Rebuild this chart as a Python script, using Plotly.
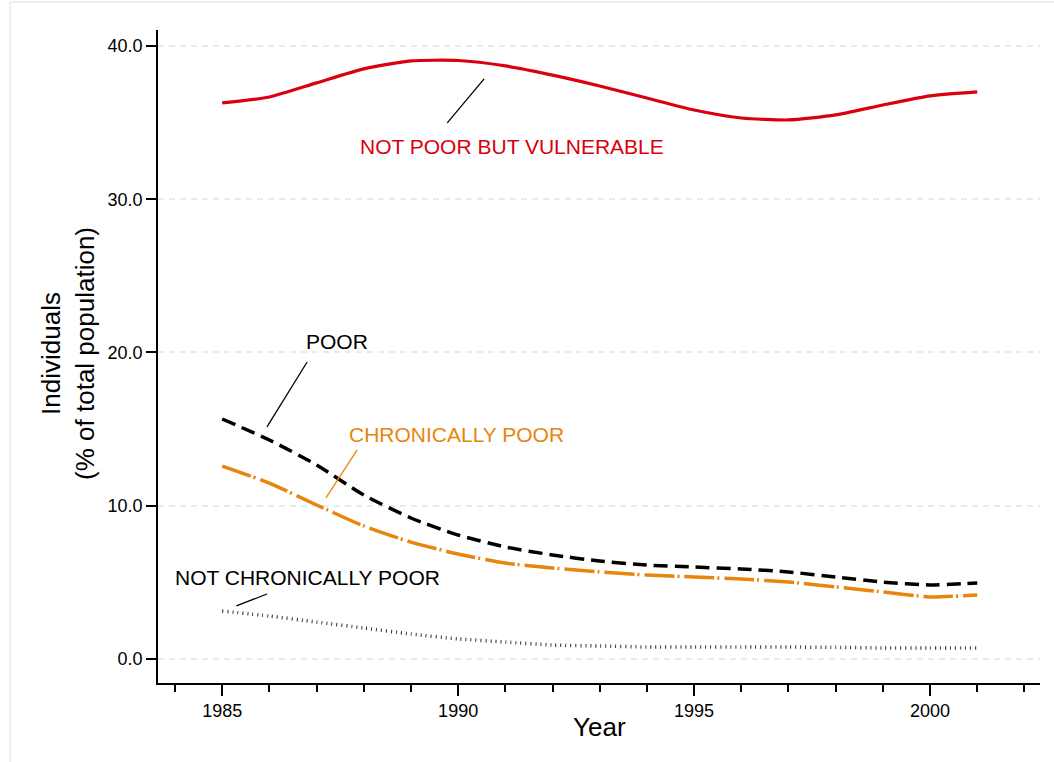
import plotly.graph_objects as go

years = list(range(1985, 2002))

not_poor_vulnerable = [36.28, 36.67, 37.59, 38.50, 39.02, 39.05, 38.70, 38.10, 37.39, 36.60,
                       35.82, 35.30, 35.17, 35.50, 36.15, 36.74, 37.00]
poor = [15.66, 14.29, 12.66, 10.70, 9.20, 8.09, 7.31, 6.79, 6.39, 6.13,
        6.00, 5.87, 5.68, 5.35, 5.02, 4.83, 4.96]
chronically_poor = [12.59, 11.48, 10.05, 8.68, 7.63, 6.85, 6.26, 5.94, 5.68, 5.48,
                    5.35, 5.22, 5.02, 4.70, 4.37, 4.05, 4.18]
not_chronically_poor = [3.13, 2.80, 2.41, 2.02, 1.63, 1.31, 1.11, 0.91, 0.85, 0.78,
                        0.78, 0.78, 0.78, 0.76, 0.72, 0.72, 0.72]

RED = "#d9000f"
ORANGE = "#e8850c"
BLACK = "#000000"
DOT = "#333333"
GRID = "#e4ecec"
FONT = "Liberation Sans, Arial, Helvetica, sans-serif"

fig = go.Figure()
fig.add_trace(go.Scatter(x=years, y=not_poor_vulnerable, mode="lines",
                         line=dict(color=RED, width=3.2, shape="spline", smoothing=0.6)))
fig.add_trace(go.Scatter(x=years, y=poor, mode="lines",
                         line=dict(color=BLACK, width=3.5, dash="14px,7px", shape="spline", smoothing=0.6)))
fig.add_trace(go.Scatter(x=years, y=chronically_poor, mode="lines",
                         line=dict(color=ORANGE, width=3.5, dash="30px,3px,2px,5px", shape="spline", smoothing=0.6)))
fig.add_trace(go.Scatter(x=years, y=not_chronically_poor, mode="lines",
                         line=dict(color=DOT, width=3.5, dash="1px,4px", shape="spline", smoothing=0.6)))

# Series labels (text, x, y, color) and leader lines
labels = [
    ("NOT POOR BUT VULNERABLE", 1991.14, 33.47, RED),
    ("POOR", 1987.44, 20.69, BLACK),
    ("CHRONICALLY POOR", 1989.96, 14.62, ORANGE),
    ("NOT CHRONICALLY POOR", 1986.80, 5.35, BLACK),
]
leaders = [
    (1989.77, 34.98, 1990.55, 37.85, BLACK),
    (1985.95, 15.14, 1986.80, 19.38, BLACK),
    (1987.20, 10.51, 1987.86, 13.64, ORANGE),
    (1985.30, 3.46, 1985.95, 4.24, BLACK),
]
for text, x, y, c in labels:
    fig.add_annotation(x=x, y=y, text=text, showarrow=False, xanchor="center", yanchor="middle",
                       font=dict(family=FONT, size=21, color=c))
for x0, y0, x1, y1, c in leaders:
    fig.add_shape(type="line", x0=x0, y0=y0, x1=x1, y1=y1, xref="x", yref="y",
                  line=dict(color=c, width=1.3))

# outer frame (left and top edges visible)
fig.add_shape(type="line", xref="paper", yref="paper", x0=-0.1678, x1=-0.1678, y0=1.0429, y1=-0.2,
              line=dict(color="#e3eaea", width=1.5))
fig.add_shape(type="line", xref="paper", yref="paper", x0=-0.1678, x1=1.1, y0=1.0429, y1=1.0429,
              line=dict(color="#e3eaea", width=1.5))

fig.add_annotation(xref="paper", yref="paper", x=-0.102, y=0.504, textangle=-90,
                   text="Individuals<br>(% of total population)", showarrow=False,
                   xanchor="center", yanchor="middle",
                   font=dict(family=FONT, size=26, color="black"))
fig.add_annotation(xref="paper", yref="paper", x=0.501, y=-0.0674, text="Year", showarrow=False,
                   xanchor="center", yanchor="middle",
                   font=dict(family=FONT, size=26, color="black"))

fig.update_layout(
    width=1054, height=762,
    margin=dict(l=158, r=14, t=30, b=79),
    paper_bgcolor="white", plot_bgcolor="white",
    showlegend=False,
    font=dict(family=FONT, size=18, color="black"),
    xaxis=dict(range=[1983.64, 2002.33], tick0=1985, dtick=5, ticks="outside", ticklen=11,
               tickwidth=1.5, tickcolor="black", showline=True, linecolor="black", linewidth=1.5,
               showgrid=False, zeroline=False,
               minor=dict(tick0=1984, dtick=1, ticks="outside", ticklen=7, tickwidth=1.5,
                          tickcolor="black", showgrid=False),
               tickfont=dict(family=FONT, size=18)),
    yaxis=dict(range=[-1.566, 41.04], tick0=0, dtick=10, tickformat=".1f", ticks="outside",
               ticklen=10, tickwidth=1.5, tickcolor="black", showline=True, linecolor="black",
               linewidth=1.5, showgrid=True, gridcolor=GRID, gridwidth=1.5, griddash="6px,5px",
               zeroline=False, tickfont=dict(family=FONT, size=18)),
)

fig.write_html("out.html", config={"displayModeBar": False},
               post_script="document.body.style.margin='0';document.body.style.overflow='hidden';")
